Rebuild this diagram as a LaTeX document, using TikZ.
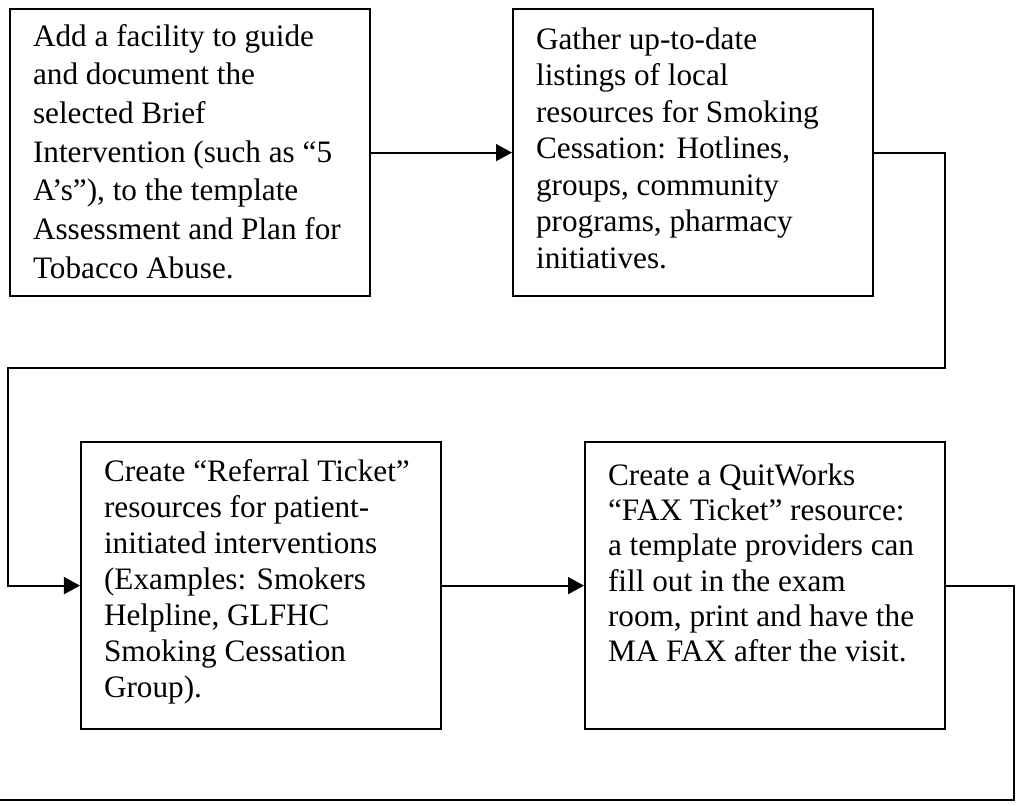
\documentclass[tikz,border=0pt]{standalone}
\usepackage{fontspec}
\setmainfont{Liberation Serif}
\usetikzlibrary{arrows.meta}

\newcommand{\steptext}[3]{\parbox[t][7.175cm][t]{7.85cm}{\fontsize{22.2}{#1}\selectfont\raggedright\rule{0pt}{#2}#3}}

\begin{document}
\begin{tikzpicture}[
      x=0.025cm, y=-0.025cm,
      stepbox/.style={draw, line width=1.5pt, anchor=north west, inner xsep=0.575cm, inner ysep=0pt, minimum width=9cm, minimum height=7.175cm},
      link/.style={line width=1.5pt, -{Triangle[length=0.4cm, width=0.42cm]}},
      plain/.style={line width=1.5pt},
    ]

    \useasboundingbox (0,0) rectangle (1016,805);

    \node[stepbox] (facility) at (9,8) {\steptext{27.5pt}{0.93cm}{Add a facility to guide\\
      and document the\\
      selected Brief\\
      Intervention (such as “5\\
      A’s”), to the template\\
      Assessment and Plan for\\
      Tobacco Abuse.}};
    \node[stepbox] (listings) at (512,8) {\steptext{26pt}{1.0cm}{Gather up-to-date\\
      listings of local\\
      resources for Smoking\\
      Cessation: Hotlines,\\
      groups, community\\
      programs, pharmacy\\
      initiatives.}};
    \node[stepbox] (referral) at (80,441) {\steptext{25.7pt}{0.975cm}{Create “Referral Ticket”\\
      resources for patient-\\
      initiated interventions\\
      (Examples: Smokers\\
      Helpline, GLFHC\\
      Smoking Cessation\\
      Group).}};
    \node[stepbox] (fax) at (584,441) {\steptext{25.1pt}{1.08cm}{Create a QuitWorks\\
      “FAX Ticket” resource:\\
      a template providers can\\
      fill out in the exam\\
      room, print and have the\\
      MA FAX after the visit.}};

    \coordinate (topturn) at (945,368);
    \coordinate (leftturn) at (8,368);
    \coordinate (outright) at (1014,800);
    \coordinate (outleft) at (0,800);

    \draw[link] (facility.east) -- (listings.west);
    \draw[link] (listings.east) -| (topturn) -- (leftturn) |- (referral.west);
    \draw[link] (referral.east) -- (fax.west);
    \draw[plain] (fax.east) -| (outright) -- (outleft);

  \end{tikzpicture}
\end{document}
